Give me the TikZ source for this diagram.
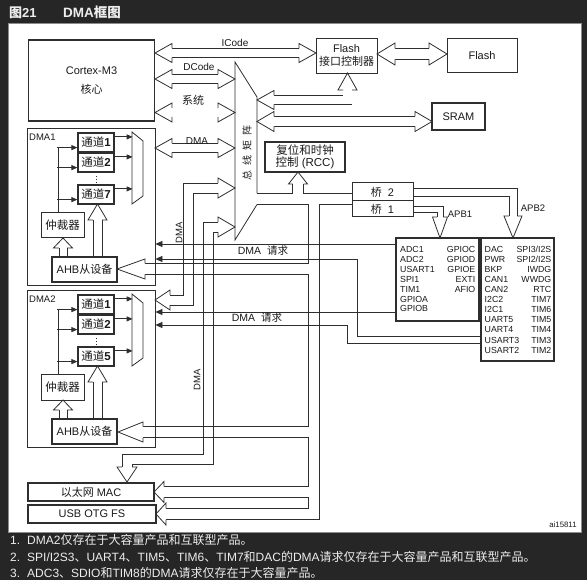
\documentclass[tikz,border=0pt]{standalone}
\usepackage{fontspec}
\setmainfont{Liberation Sans}
\newfontfamily\cjk{Noto Sans CJK SC}
\usetikzlibrary{arrows.meta}
\newcommand{\zh}[1]{{\cjk #1}}
\newcommand{\fsz}[2]{\fontsize{#1}{#2}\selectfont}
\definecolor{lc}{HTML}{2E2E2E}
\definecolor{ink}{HTML}{1A1A1A}
\definecolor{bgdark}{HTML}{262626}
\definecolor{frm}{HTML}{8C8C8C}
\definecolor{pale}{HTML}{EDEDED}
\pgfdeclarelayer{back}
\pgfdeclarelayer{bus}
\pgfsetlayers{back,bus,main}
\tikzset{
    wire/.style={draw=lc, line width=0.8pt},
    box/.style={draw=lc, line width=1pt, text=ink, inner sep=0pt, align=center, font=\fsz{11}{13}},
    thick box/.style={box, line width=1.7pt},
    ch box/.style={box, line width=1.2pt, minimum width=36, minimum height=19, font=\fsz{11.5}{13}},
    frame box/.style={draw=lc, line width=0.8pt, inner sep=0pt},
    txt/.style={text=ink, inner sep=0pt, font=\fsz{10}{12}},
    perl/.style={txt, font=\fsz{8.8}{10}},
    note/.style={anchor=west, text=pale, inner sep=0pt, font=\fsz{12}{14}},
    req/.style={wire, -{Triangle[length=7pt, width=6pt]}},
    feed/.style={wire, -{Triangle[length=6pt, width=5pt]}},
    band/.style={draw=lc, line width=0.8pt, double=white, double distance=#1},
    pics/fathead/.style n args={3}{code={
        \filldraw[wire, fill=white] (-#3,-#1) -- (-#3,-#2) -- (0,0) -- (-#3,#2) -- (-#3,#1);
    }},
}

\begin{document}
\begin{tikzpicture}[x=1pt, y=-1pt]
            \useasboundingbox (0,0) rectangle (587,580);
            \begin{pgfonlayer}{back}
                \fill[bgdark] (0,0) rectangle (587,580);
                \filldraw[fill=white, draw=frm, line width=1pt] (8,24) rectangle (581,532);
            \end{pgfonlayer}

            \node[anchor=west, text=pale, inner sep=0pt, font=\fsz{13}{15}\bfseries] (fignum) at (9,12.5) {\zh{图}21};
            \node[anchor=west, text=pale, inner sep=0pt, font=\fsz{13.5}{15}\bfseries] (title) at (63,12.5) {DMA\zh{框图}};

            \node[box, line width=1.2pt, minimum width=126, minimum height=81] (cpu) at (91.5,80.5) {Cortex-M3\\[6pt]\zh{核心}};
            \node[box, line width=0.8pt, minimum width=61, minimum height=35] (flashif) at (346.5,55.5) {Flash\\\zh{接口控制器}};
            \node[box, minimum width=70, minimum height=34] (flash) at (482,56) {Flash};
            \node[thick box, minimum width=53, minimum height=27] (sram) at (458.5,116.5) {SRAM};
            \node[thick box, minimum width=80, minimum height=30, font=\fsz{11.5}{12.5}] (rcc) at (305,157) {\zh{复位和时钟}\\\zh{控制} (RCC)};
            \node[box, minimum width=61, minimum height=18] (br2) at (382.5,192) {\zh{桥}\hspace{6pt}2};
            \node[box, minimum width=61, minimum height=16] (br1) at (382.5,209) {\zh{桥}\hspace{6pt}1};
            \node[thick box, minimum width=83, minimum height=83] (apb1) at (437.5,279.5) {};
            \node[thick box, minimum width=73, minimum height=123] (apb2) at (517.5,299.5) {};
            \node[thick box, minimum width=126, minimum height=18] (mac) at (91,492) {\zh{以太网} MAC};
            \node[thick box, minimum width=128, minimum height=18] (usb) at (92,514) {USB OTG FS};

            \draw[wire] (257,193.5) -- (257,97) -- (235,62) -- (235,240) -- (257,204.5);
            \node[txt, rotate=90] (matrix) at (247,153) {\zh{总\hspace{5pt}线\hspace{5pt}矩\hspace{5pt}阵}};

            \foreach \n/\dy/\k in {1/0/7,2/162/5}{
                \begin{scope}[shift={(0,\dy)}]
                    \node[frame box, minimum width=128, minimum height=157] (dma\n) at (91,206.5) {};
                    \node[txt, font=\fsz{9.5}{11}, anchor=west] (dma\n-name) at (29,137) {DMA\n};
                    \node[ch box] (ch\n-1) at (96,142.5) {\zh{通道}\textbf{1}};
                    \node[ch box] (ch\n-2) at (96,162.5) {\zh{通道}\textbf{2}};
                    \node[ch box] (ch\n-3) at (96,194.5) {\zh{通道}\textbf{\k}};
                    \node[box, minimum width=43, minimum height=25, font=\fsz{11.5}{13}] (arb\n) at (62.5,225.5) {\zh{仲裁器}};
                    \node[box, line width=1.2pt, minimum width=65, minimum height=25] (ahb\n) at (84.5,269.5) {AHB\zh{从设备}};
                    \draw[wire] (132,132) -- (143,141) -- (143,196) -- (132,204) -- cycle;
                    \draw[wire, line width=1pt, dash pattern=on 1pt off 2pt] (ch\n-2.south) ++(0,3) -- ++(0,8);
                    \draw[wire] (58,213) -- (58,147);
                    \foreach \c in {1,2,3}{
                        \draw[feed] ([yshift=-4.5pt]ch\n-\c.north east) -- ++(18,0);
                        \draw[feed] ([yshift=5pt]ch\n-\c.south west) ++(-20,0) -- ++(20,0);
                    }
                    \draw[wire] (59,257) -- (59,248) (67,257) -- (67,248);
                    \draw[wire] (93,257) -- (93,220) (102,257) -- (102,220);
                    \begin{pgfonlayer}{bus}
                        \pic[rotate=90] at (63,238) {fathead={4}{9.5}{10}};
                        \pic[rotate=90] at (97.5,204) {fathead={4.5}{9.5}{16}};
                    \end{pgfonlayer}
                \end{scope}
            }

            \begin{pgfonlayer}{bus}
                \draw[band=8.2pt] (172,53) -- (299,53);
                \draw[band=8.2pt] (172,79) -- (218,79);
                \draw[band=8.2pt] (172,112.5) -- (218,112.5);
                \draw[band=8.2pt] (172,148) -- (218,148);
                \draw[band=8.2pt] (274,100) -- (347.5,100) -- (347.5,90);
                \draw[band=9.2pt] (274,121.5) -- (415,121.5);
                \draw[band=10.2pt] (395,54) -- (429,54);
                \draw[band=10.2pt] (257,199) -- (352,199) (298,199) -- (298,184)
                    (314,199) -- (314,514) -- (166,514) (314,269) -- (145,269)
                    (314,432) -- (143,432) (314,492) -- (164,492);

                \pic[rotate=180] at (155,53) {fathead={4.5}{9.5}{17}};
                \pic at (316,53) {fathead={4.5}{9.5}{17}};
                \pic[rotate=180] at (155,79) {fathead={4.5}{9.5}{17}};
                \pic at (235,79) {fathead={4.5}{9.5}{17}};
                \pic[rotate=180] at (155,112.5) {fathead={4.5}{9.5}{17}};
                \pic at (235,112.5) {fathead={4.5}{9.5}{17}};
                \pic[rotate=180] at (155,148) {fathead={4.5}{9.5}{17}};
                \pic at (235,148) {fathead={4.5}{9.5}{17}};
                \pic[rotate=180] at (257,100) {fathead={4.5}{9.5}{17}};
                \pic[rotate=90] at (347.5,73) {fathead={4.5}{9.5}{17}};
                \pic[rotate=180] at (257,121.5) {fathead={5}{10}{17}};
                \pic at (432,121.5) {fathead={5}{10}{17}};
                \pic[rotate=180] at (377,54) {fathead={5.5}{11}{18}};
                \pic at (447,54) {fathead={5.5}{11}{18}};
                \pic[rotate=-90] at (513,238) {fathead={4}{9}{22}};
                \pic[rotate=-90] at (440,238) {fathead={3}{7.5}{21}};
                \pic[rotate=180] at (155,300) {fathead={5}{10}{15}};
                \pic at (235,188) {fathead={5}{10}{17}};
                \pic at (235,227) {fathead={5}{10}{17}};
                \pic[rotate=-90] at (127,482) {fathead={5}{10}{15}};
                \pic[rotate=90] at (298,172) {fathead={5.5}{9.5}{12}};
                \pic[rotate=180] at (117,269) {fathead={5.5}{10}{28}};
                \pic[rotate=180] at (118,432) {fathead={5.5}{10}{25}};
                \pic[rotate=180] at (154,492) {fathead={5.5}{10.5}{10}};
                \pic[rotate=180] at (156,514) {fathead={5.5}{11}{10}};
            \end{pgfonlayer}

            \draw[wire] (413,188) -- (517,188) -- (517,216) (413,196) -- (509,196) -- (509,216);
            \draw[wire] (413,206) -- (443,206) -- (443,217) (413,212) -- (437,212) -- (437,217);
            \draw[wire] (170,295) -- (183,295) -- (183,183) -- (218,183)
                (170,305) -- (193,305) -- (193,193) -- (218,193);
            \draw[wire] (218,222) -- (203,222) -- (203,454) -- (122,454) -- (122,467)
                (218,232) -- (213,232) -- (213,464) -- (132,464) -- (132,467);

            \draw[req] (apb1.west |- 0,244) -- (dma1.east |- 0,244);
            \draw[req] (apb2.west |- 0,336) -| (357,259) -- (dma1.east |- 0,259);
            \draw[req] (apb1.west |- 0,312) -- (dma2.east |- 0,312);
            \draw[req] (apb2.west |- 0,343) -| (347,325) -- (dma2.east |- 0,325);

            \node[txt] (icode) at (235,43) {ICode};
            \node[txt] (dcode) at (199,67) {DCode};
            \node[txt, font=\fsz{11}{13}] (sysbus) at (193,100) {\zh{系统}};
            \node[txt] (dmabus) at (197,141) {DMA};
            \node[txt, font=\fsz{9.5}{11}, rotate=90] (dmaup) at (179,233) {DMA};
            \node[txt, font=\fsz{9.5}{11}, rotate=90] (dmadown) at (197,380) {DMA};
            \node[txt, font=\fsz{9.5}{11}] (apbone) at (460,214) {APB1};
            \node[txt, font=\fsz{9.5}{11}] (apbtwo) at (533,208) {APB2};
            \node[txt, font=\fsz{10.5}{12}] (reqone) at (263,251) {DMA\hspace{6pt}\zh{请求}};
            \node[txt, font=\fsz{10.5}{12}] (reqtwo) at (257,318) {DMA\hspace{6pt}\zh{请求}};
            \node[txt, font=\fsz{7.8}{9}] (figcode) at (563,525) {ai15811};

            \foreach \name [count=\i] in {ADC1,ADC2,USART1,SPI1,TIM1,GPIOA,GPIOB}
                \node[perl, anchor=west] (pa\i) at (400,239.6+9.9*\i) {\name};
            \foreach \name [count=\i] in {GPIOC,GPIOD,GPIOE,EXTI,AFIO}
                \node[perl, anchor=east] (pb\i) at (475.5,239.6+9.9*\i) {\name};
            \foreach \name [count=\i] in {DAC,PWR,BKP,CAN1,CAN2,I2C2,I2C1,UART5,UART4,USART3,USART2}
                \node[perl, anchor=west] (pc\i) at (484.5,239+10.1*\i) {\name};
            \foreach \name [count=\i] in {SPI3/I2S,SPI2/I2S,IWDG,WWDG,RTC,TIM7,TIM6,TIM5,TIM4,TIM3,TIM2}
                \node[perl, anchor=east] (pd\i) at (551.5,239+10.1*\i) {\name};

            \node[note] (note1) at (10,540) {1.\hspace{7pt}DMA2\zh{仅存在于大容量产品和互联型产品。}};
            \node[note] (note2) at (10,557) {2.\hspace{7pt}SPI/I2S3\zh{、}UART4\zh{、}TIM5\zh{、}TIM6\zh{、}TIM7\zh{和}DAC\zh{的}DMA\zh{请求仅存在于大容量产品和互联型产品。}};
            \node[note] (note3) at (10,573) {3.\hspace{7pt}ADC3\zh{、}SDIO\zh{和}TIM8\zh{的}DMA\zh{请求仅存在于大容量产品。}};
\end{tikzpicture}
\end{document}
